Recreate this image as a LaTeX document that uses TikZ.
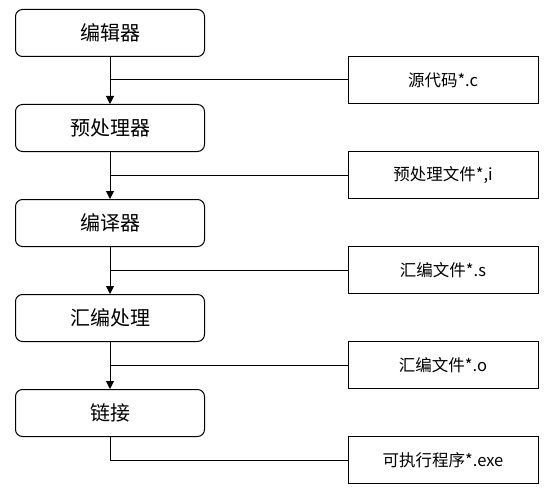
\documentclass[tikz,border=0pt]{standalone}
\usepackage{fontspec}
\setmainfont{Noto Sans CJK SC}
\usetikzlibrary{arrows.meta}

\tikzset{
  stage/.style={draw, rounded corners=7pt, minimum width=189pt, minimum height=47pt, inner sep=0pt, font=\fontsize{20}{24}\selectfont},
  file/.style={draw, minimum width=190pt, minimum height=47pt, inner sep=0pt, font=\fontsize{16.5}{20}\selectfont},
  flow/.style={-{Triangle[width=8pt,length=8pt]}}
}

\begin{document}
\begin{tikzpicture}[x=1pt,y=-1pt,line width=1pt]
        \useasboundingbox (0,0) rectangle (554,492);

        \node[stage] (edit) at (110, 33) {编辑器};
        \node[stage] (pre)  at (110, 128) {预处理器};
        \node[stage] (comp) at (110, 223) {编译器};
        \node[stage] (asm)  at (110, 318) {汇编处理};
        \node[stage] (link) at (110, 413) {链接};

        \node[file] (src)   at (443, 80) {源代码*.c};
        \node[file] (ifile) at (443, 175) {预处理文件*,i};
        \node[file] (sfile) at (443, 270) {汇编文件*.s};
        \node[file] (ofile) at (443, 365) {汇编文件*.o};
        \node[file] (exe)   at (443, 460) {可执行程序*.exe};

        \path[draw]
        (edit) edge[flow] (pre)
        (pre) edge[flow] (comp)
        (comp) edge[flow] (asm)
        (asm) edge[flow] (link)
        ;

        \path[draw]
        (src.west) -- (edit.south |- src.west)
        (ifile.west) -- (pre.south |- ifile.west)
        (sfile.west) -- (comp.south |- sfile.west)
        (ofile.west) -- (asm.south |- ofile.west)
        (link.south) |- (exe.west)
        ;

\end{tikzpicture}
\end{document}
